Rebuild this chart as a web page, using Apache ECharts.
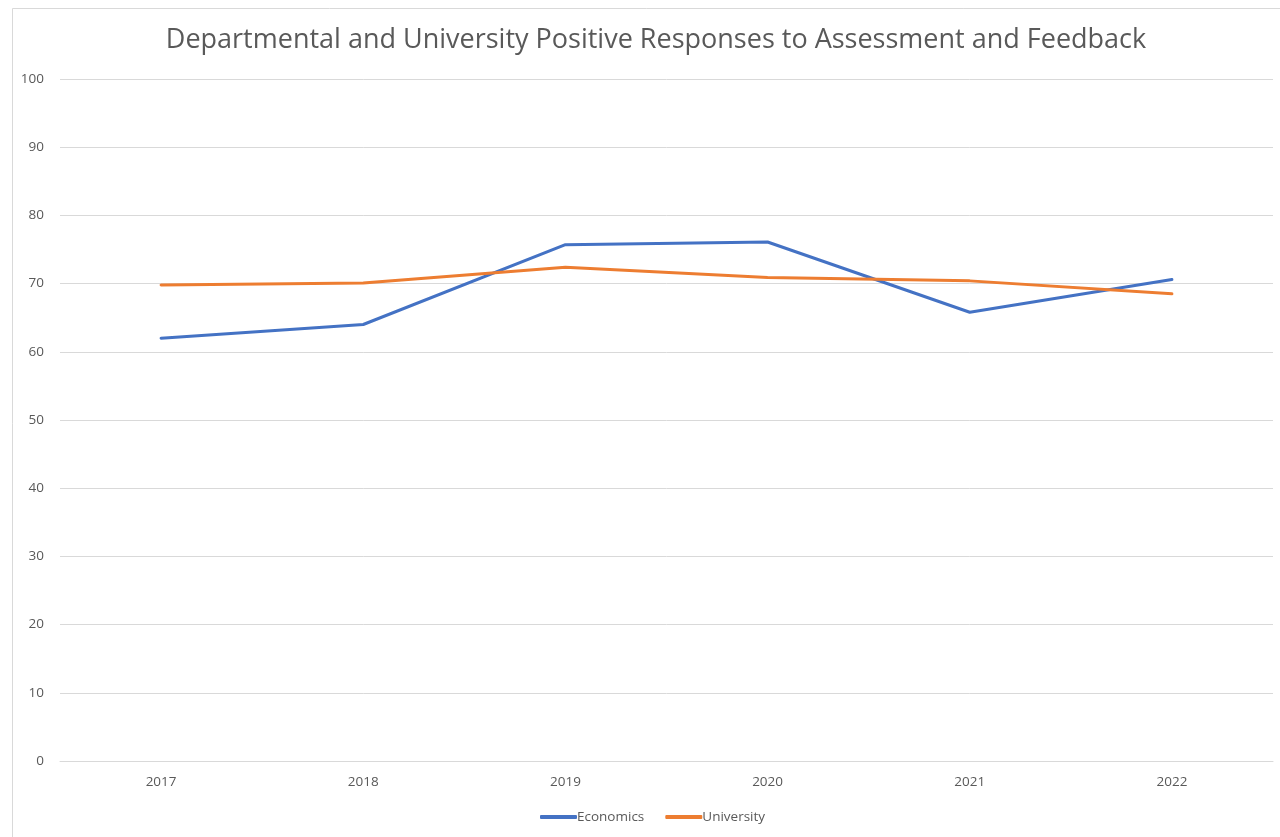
<!DOCTYPE html>
<html>
<head>
<meta charset="utf-8">
<script src="https://cdn.jsdelivr.net/npm/echarts@6/dist/echarts.min.js"></script>
<style>
html,body{margin:0;padding:0;background:#fff;}
#chart{width:1280px;height:837px;}
</style>
</head>
<body>
<div id="chart"></div>
<script>
const years = ['2017', '2018', '2019', '2020', '2021', '2022'];
const economics = [62.0, 64.0, 75.7, 76.1, 65.8, 70.6];
const university = [69.8, 70.1, 72.4, 70.9, 70.4, 68.5];
const titleText = 'Departmental and University Positive Responses to Assessment and Feedback';

const chart = echarts.init(document.getElementById('chart'), null, {renderer: 'canvas'});
const txt = '#595959';
chart.setOption({
  animation: false,
  backgroundColor: '#fff',
  graphic: [{
    type: 'rect', left: 10, top: 6, z: -1,
    shape: {width: 1300, height: 900},
    style: {fill: 'none', stroke: '#d9d9d9', lineWidth: 1}
  }],
  title: {
    text: titleText,
    left: 651, top: 22, textAlign: 'center',
    textStyle: {fontFamily: 'Open Sans', fontWeight: 'normal', fontSize: 27, color: txt}
  },
  legend: {
    bottom: 13, left: 540, padding: 0,
    itemWidth: 37, itemHeight: 4, itemGap: 21,
    icon: 'roundRect',
    textStyle: {fontFamily: 'Open Sans', fontSize: 13.5, color: txt, padding: [0, 0, 0, -5]},
    data: ['Economics', 'University']
  },
  grid: {left: 60, right: 7, top: 79, bottom: 76, containLabel: false},
  xAxis: {
    type: 'category', data: years, boundaryGap: true,
    axisLine: {lineStyle: {color: '#d9d9d9', width: 1}},
    axisTick: {show: false},
    axisLabel: {color: txt, fontFamily: 'Open Sans', fontSize: 13.5, margin: 14}
  },
  yAxis: {
    type: 'value', min: 0, max: 100, interval: 10,
    axisLine: {show: false}, axisTick: {show: false},
    splitLine: {lineStyle: {color: '#d9d9d9', width: 1}},
    axisLabel: {color: txt, fontFamily: 'Open Sans', fontSize: 13.5, margin: 16}
  },
  series: [
    {name: 'Economics', type: 'line', data: economics, showSymbol: false, symbol: 'none',
     lineStyle: {color: '#4472C4', width: 3, cap: 'round', join: 'round'}, itemStyle: {color: '#4472C4'}},
    {name: 'University', type: 'line', data: university, showSymbol: false, symbol: 'none',
     lineStyle: {color: '#ED7D31', width: 3, cap: 'round', join: 'round'}, itemStyle: {color: '#ED7D31'}}
  ]
});
</script>
</body>
</html>
